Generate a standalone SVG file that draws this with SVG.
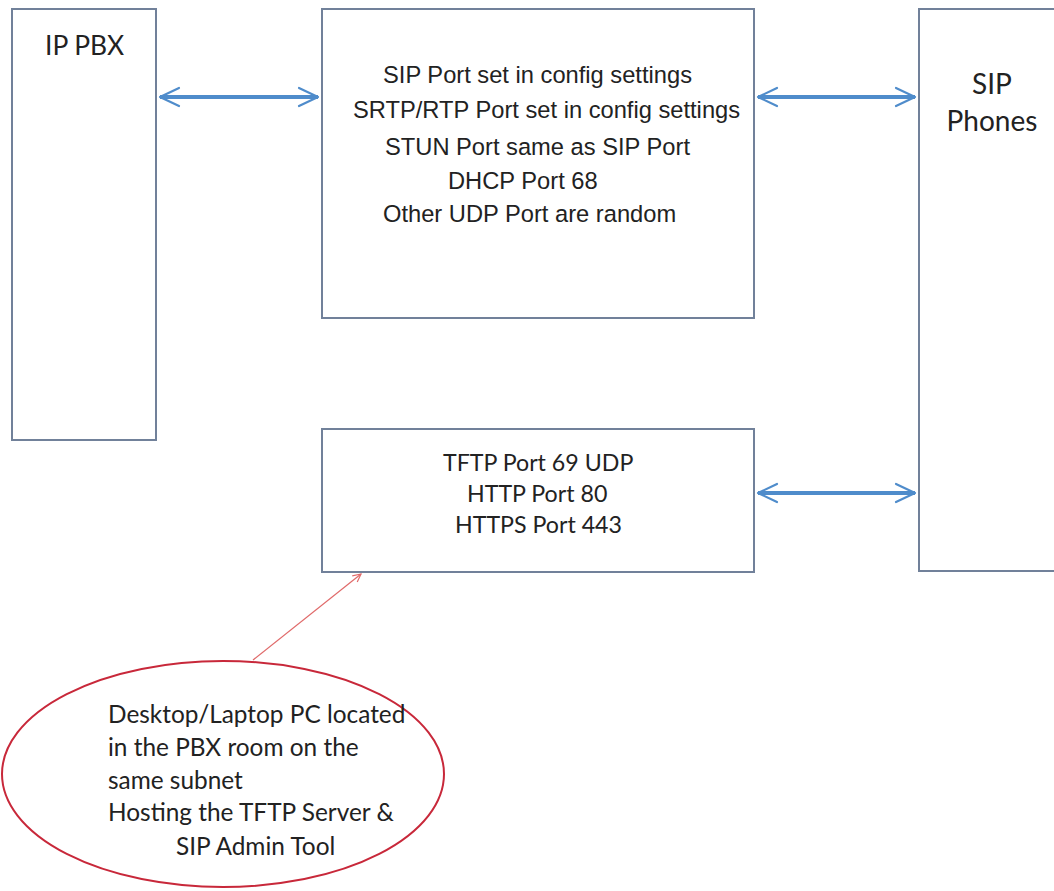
<svg xmlns="http://www.w3.org/2000/svg" width="1054" height="891" viewBox="0 0 1054 891">
<style>
.box{fill:#ffffff;stroke:#71819a;stroke-width:2}
.arr{stroke:#4f8ccb;stroke-width:4;fill:none;marker-start:url(#ah);marker-end:url(#ah)}
.t1{font-family:"Liberation Sans",Arial,sans-serif;font-size:23.7px;fill:#222}
.t2{font-family:Lato,"Open Sans",sans-serif;fill:#222}
</style>
<defs>
<marker id="ah" viewBox="0 0 12 11" refX="11" refY="5.5" markerWidth="6" markerHeight="5.5" orient="auto-start-reverse" markerUnits="strokeWidth">
<path d="M1.5,1 L11,5.5 L1.5,10" fill="none" stroke="#4f8ccb" stroke-width="1.1" stroke-linecap="round" stroke-linejoin="round"/>
</marker>
<marker id="rh" viewBox="0 0 10 10" refX="9" refY="5" markerWidth="10" markerHeight="10" orient="auto" markerUnits="userSpaceOnUse">
<path d="M1,1 L9,5 L1,9" fill="none" stroke="#e06a6a" stroke-width="1.2"/>
</marker>
</defs>
<g id="ip-pbx">
<rect class="box" x="12" y="9" width="144" height="431"/>
<text class="t2" x="45" y="55" font-size="26.4px">IP PBX</text>
</g>
<g id="udp-ports">
<rect class="box" x="322" y="9" width="432" height="309"/>
<text class="t1" x="383" y="83">SIP Port set in config settings</text>
<text class="t1" x="353" y="118">SRTP/RTP Port set in config settings</text>
<text class="t1" x="385" y="155">STUN Port same as SIP Port</text>
<text class="t1" x="448" y="189">DHCP Port 68</text>
<text class="t1" x="383" y="222">Other UDP Port are random</text>
</g>
<g id="sip-phones">
<rect class="box" x="919" y="9" width="140" height="562"/>
<text class="t2" x="992" y="94" font-size="28px" text-anchor="middle">SIP</text>
<text class="t2" x="992" y="131" font-size="28px" text-anchor="middle">Phones</text>
</g>
<g id="tcp-ports">
<rect class="box" x="322" y="429" width="432" height="143"/>
<text class="t2" x="443" y="471" font-size="23.2px">TFTP Port 69 UDP</text>
<text class="t2" x="467" y="502" font-size="23.2px">HTTP Port 80</text>
<text class="t2" x="455" y="533" font-size="23.2px">HTTPS Port 443</text>
</g>
<g id="pc">
<ellipse cx="223" cy="774" rx="221" ry="113" fill="none" stroke="#c8283a" stroke-width="2"/>
<g font-size="24.4px">
<text class="t2" x="108" y="723">Desktop/Laptop PC located</text>
<text class="t2" x="108" y="756">in the PBX room on the</text>
<text class="t2" x="108" y="789">same subnet</text>
<text class="t2" x="108" y="821">Hosting the TFTP Server &amp;</text>
<text class="t2" x="176" y="855">SIP Admin Tool</text>
</g>
</g>
<g id="connectors">
<line class="arr" x1="160" y1="97" x2="318" y2="97"/>
<line class="arr" x1="758" y1="97" x2="915" y2="97"/>
<line class="arr" x1="758" y1="493" x2="915" y2="493"/>
<line x1="253" y1="660" x2="361" y2="574" stroke="#e06a6a" stroke-width="1.2" marker-end="url(#rh)"/>
</g>
</svg>
